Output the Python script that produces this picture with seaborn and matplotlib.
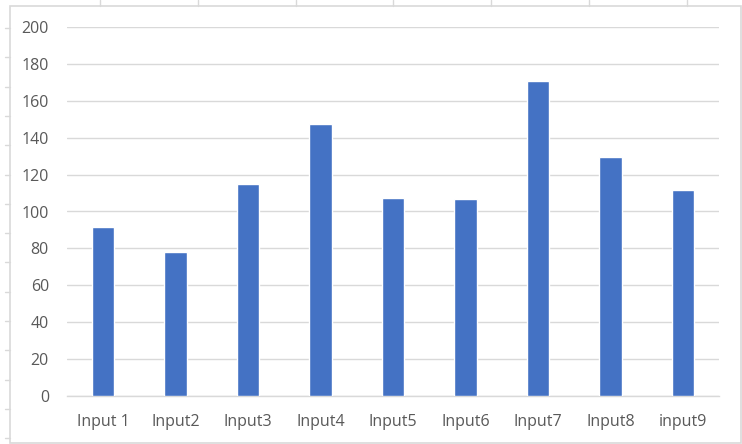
import matplotlib
matplotlib.use("Agg")
import matplotlib.pyplot as plt
from matplotlib.lines import Line2D
from matplotlib.patches import Rectangle
import seaborn as sns
import pandas as pd

categories = ["Input 1", "Input2", "Input3", "Input4", "Input5",
              "Input6", "Input7", "Input8", "input9"]
values = [91.4, 78.2, 114.7, 147.6, 107.4, 106.7, 170.7, 129.4, 111.7]
y_ticks = [0, 20, 40, 60, 80, 100, 120, 140, 160, 180, 200]

df = pd.DataFrame({"name": categories, "value": values})

sns.set_style("white")
plt.rcParams["font.family"] = ["Open Sans", "DejaVu Sans"]

W, H = 742, 444
fig = plt.figure(figsize=(W / 100, H / 100), dpi=100)
ax = fig.add_axes([67 / W, 1 - 396 / H, (719 - 67) / W, (396 - 27) / H])

sns.barplot(data=df, x="name", y="value", color="#4472C4", saturation=1,
            width=0.31, ax=ax, zorder=3)

ax.set_ylim(0, 200)
ax.set_xlim(-0.5, len(categories) - 0.5)
ax.set_yticks(y_ticks)
ax.yaxis.grid(True, color="#d9d9d9", linewidth=1)
ax.set_axisbelow(True)
for side in ["left", "right", "top"]:
    ax.spines[side].set_visible(False)
ax.spines["bottom"].set_color("#d9d9d9")
ax.spines["bottom"].set_linewidth(1)
ax.tick_params(axis="both", length=0, labelsize=11.5, labelcolor="#595959")
ax.tick_params(axis="y", pad=13)
ax.tick_params(axis="x", pad=13)
ax.set_xlabel("")
ax.set_ylabel("")

# chart area border and the sheet's cell edges around it
def px_line(x0, y0, x1, y1):
    fig.add_artist(Line2D([x0 / W, x1 / W], [1 - y0 / H, 1 - y1 / H],
                          color="#d9d9d9", linewidth=1))

fig.add_artist(Rectangle((10 / W, 1 - 443 / H), (741 - 10) / W, (443 - 6) / H,
                         fill=False, edgecolor="#d9d9d9", linewidth=1.2))
for x in [100, 198, 296, 393, 491, 589, 687]:
    px_line(x, 0, x, 6)
y = 28
while y < H:
    px_line(5, y, 10, y)
    y += 29.3

fig.savefig("out.png", dpi=100)
